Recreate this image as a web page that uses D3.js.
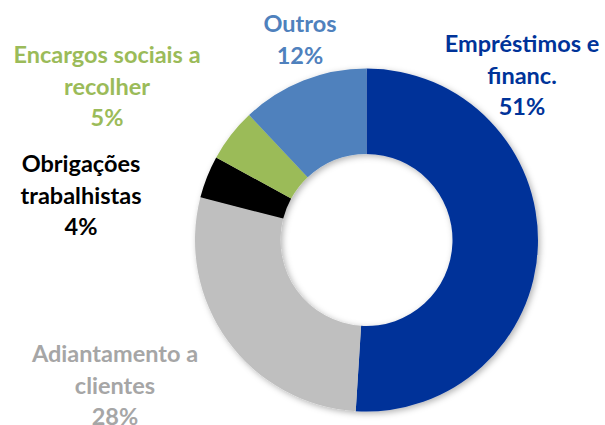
<!DOCTYPE html>
<html>
<head>
<meta charset="utf-8">
<script src="https://cdn.jsdelivr.net/npm/d3@7"></script>
<style>
  html, body { margin: 0; padding: 0; background: #ffffff; }
  svg { display: block; }
</style>
</head>
<body>
<div id="chart"></div>
<script>
// data, clockwise from 12 o'clock
const categories = ["Empréstimos e financ.", "Adiantamento a clientes", "Obrigações trabalhistas", "Encargos sociais a recolher", "Outros"];
const values = [51, 28, 4, 5, 12];
const labelLines = [
  ["Empréstimos e", "financ."],
  ["Adiantamento a", "clientes"],
  ["Obrigações", "trabalhistas"],
  ["Encargos sociais a", "recolher"],
  ["Outros"]
];

const sliceColors = ["#003399", "#bfbfbf", "#000000", "#9bbb59", "#4f81bd"];
const labelColors = ["#003399", "#a6a6a6", "#000000", "#9bbb59", "#4f81bd"];
// label block positions (centre x, first baseline y)
const labelPos = [[522, 52], [115, 362], [81, 172], [107, 63], [300, 32]];

function drawDonut(containerId) {
  const width = 605, height = 425;
  const cx = 366.5, cy = 240, outerR = 171.5, innerR = 86;
  const lineH = 31.5;

  const svg = d3.select(`#${containerId}`)
    .append("svg")
      .attr("width", width)
      .attr("height", height);

  const defs = svg.append("defs");
  const f = defs.append("filter")
      .attr("id", "shadow")
      .attr("x", "-20%").attr("y", "-20%")
      .attr("width", "140%").attr("height", "140%");
  f.append("feDropShadow")
      .attr("dx", 2).attr("dy", 2)
      .attr("stdDeviation", 3)
      .attr("flood-color", "#000")
      .attr("flood-opacity", 0.3);

  const data = categories.map((c, i) => ({ name: c, value: values[i], i }));

  const pie = d3.pie()
      .sort(null)
      .value(d => d.value);

  const arc = d3.arc()
      .innerRadius(innerR)
      .outerRadius(outerR);

  const g = svg.append("g")
      .attr("transform", `translate(${cx},${cy})`)
      .attr("filter", "url(#shadow)");

  g.selectAll("path")
    .data(pie(data))
    .join("path")
      .attr("d", arc)
      .attr("fill", d => sliceColors[d.data.i]);

  // Labels
  const labels = svg.append("g")
    .selectAll("text")
    .data(data)
    .join("text")
      .attr("x", d => labelPos[d.i][0])
      .attr("y", d => labelPos[d.i][1])
      .attr("text-anchor", "middle")
      .style("font-family", "Lato, 'Open Sans', sans-serif")
      .style("font-weight", "bold")
      .style("font-size", "23.5px")
      .style("fill", d => labelColors[d.i]);

  labels.each(function(d) {
    const t = d3.select(this);
    const lines = labelLines[d.i].concat([`${d.value}%`]);
    lines.forEach((line, k) => {
      t.append("tspan")
        .attr("x", labelPos[d.i][0])
        .attr("dy", k === 0 ? 0 : lineH)
        .text(line);
    });
  });
}

document.addEventListener("DOMContentLoaded", function () {
  drawDonut("chart");
});
</script>
</body>
</html>
